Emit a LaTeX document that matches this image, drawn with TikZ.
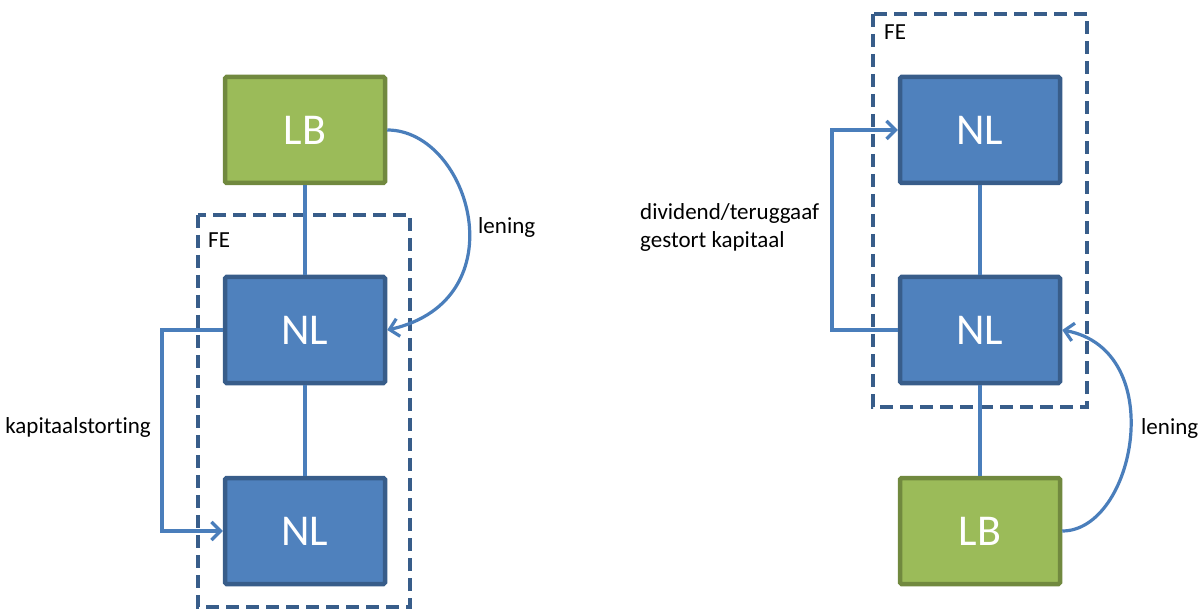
\documentclass[tikz,border=0pt]{standalone}
\usepackage{fontspec}
\setmainfont{Carlito}[Ligatures=NoCommon]
\usetikzlibrary{arrows.meta}
\definecolor{nlfill}{HTML}{4F81BD}
\definecolor{nlline}{HTML}{385D8A}
\definecolor{lbfill}{HTML}{9BBB59}
\definecolor{lbline}{HTML}{71893F}
\definecolor{conn}{HTML}{4A7EBB}
\definecolor{febox}{HTML}{385D8A}
\tikzset{
  entity/.style={rectangle, rounded corners=1.5pt, line width=4.5pt,
    minimum width=160pt, minimum height=106pt, inner sep=0pt,
    text=white, font=\fontsize{44}{46}\selectfont},
  nlbox/.style={entity, draw=nlline, fill=nlfill},
  lbbox/.style={entity, draw=lbline, fill=lbfill},
  link/.style={draw=conn, line width=3.2pt},
  flow/.style={link, -{Straight Barb[length=9pt,width=18pt,line width=3.2pt]}},
  fegroup/.style={draw=febox, line width=3.4pt, dash pattern=on 13pt off 7pt},
  lbl/.style={inner sep=0pt, font=\fontsize{23}{28}\selectfont, text=black}
}
\begin{document}
\begin{tikzpicture}[x=1pt,y=-1pt]
\useasboundingbox (0,0) rectangle (1204,609);

% ---- left structure: LB finances NL, NL contributes capital to NL ----
\draw[fegroup] (198,215) rectangle (410,607);
\node[lbl, anchor=west] (feL) at (208,240) {FE};

\node[lbbox] (lbL)  at (305,130) {LB};
\node[nlbox] (nlL1) at (305,330) {NL};
\node[nlbox] (nlL2) at (305,531) {NL};

\draw[link] (lbL.south) -- (nlL1.north);
\draw[link] (nlL1.south) -- (nlL2.north);

\coordinate (kapTop) at (162,330);
\coordinate (kapBot) at (162,531);
\draw[flow] (nlL1.west) -- (kapTop) -- (kapBot) -- (nlL2.west);
\node[lbl, anchor=east] (kapLbl) at (151,427) {kapitaalstorting};

\draw[flow] (lbL.east) .. controls (470,130) and (520,300) .. (nlL1.east);
\node[lbl, anchor=west] (lenL) at (478,227) {lening};

% ---- right structure: NL pays back to NL, LB lends to NL ----
\draw[fegroup] (873,14) rectangle (1087,407);
\node[lbl, anchor=west] (feR) at (884,32) {FE};

\node[nlbox] (nlR1) at (980,130) {NL};
\node[nlbox] (nlR2) at (980,330) {NL};
\node[lbbox] (lbR)  at (980,531) {LB};

\draw[link] (nlR1.south) -- (nlR2.north);
\draw[link] (nlR2.south) -- (lbR.north);

\coordinate (divBot) at (832,330);
\coordinate (divTop) at (832,130);
\draw[flow] (nlR2.west) -- (divBot) -- (divTop) -- (nlR1.west);
\node[lbl, anchor=west, align=left] (divLbl) at (640,227) {dividend/teruggaaf\\gestort kapitaal};

\draw[flow] (lbR.east) .. controls (1135,531) and (1170,350) .. (nlR2.east);
\node[lbl, anchor=west] (lenR) at (1141,428) {lening};
\end{tikzpicture}
\end{document}
